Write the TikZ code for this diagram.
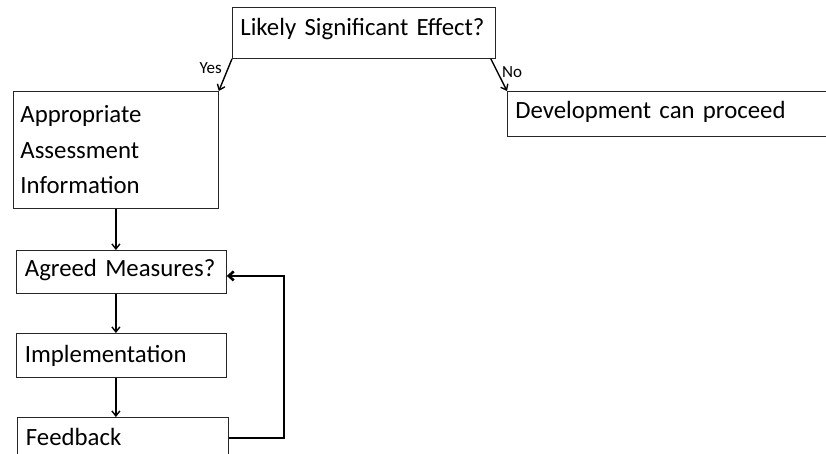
\documentclass[tikz,border=0pt]{standalone}
\usepackage{fontspec}
\setmainfont{Carlito}
\usetikzlibrary{arrows.meta,calc}
\begin{document}
\begin{tikzpicture}[x=1pt,y=-1pt,
  box/.style={draw=black!85,line width=0.8pt,rectangle,anchor=north west,
    inner xsep=7pt,inner ysep=0pt,align=left,font=\fontsize{24.8}{35.5}\selectfont},
  lab/.style={font=\fontsize{17}{19}\selectfont,inner sep=0pt},
  arr/.style={line width=1.4pt,-{Straight Barb[length=5pt,width=8pt]}},
  loop/.style={line width=2.6pt,-{Straight Barb[length=5pt,width=9pt]}}]
\path[use as bounding box] (0,0) rectangle (826,454);
\clip (0,0) rectangle (826,454);
\fill[white] (0,0) rectangle (826,454);
% boxes
\node[box,text width=247pt,inner xsep=8pt,text height=28pt,text depth=23pt] (q) at (232,7) {Likely Significant Effect?};
\node[box,text width=191pt,minimum height=117pt] (a) at (13,91) {Appropriate\\Assessment\\Information};
\node[box,text width=330pt,inner xsep=8pt,text height=27pt,text depth=18pt] (d) at (507,91) {Development can proceed};
\node[box,text width=193pt,inner xsep=8.5pt,text height=26pt,text depth=17pt] (ag) at (16,250) {Agreed Measures?};
\node[box,text width=193pt,inner xsep=8.5pt,text height=29pt,text depth=15pt] (im) at (16,333) {Implementation};
\node[box,text width=194pt,inner xsep=8.5pt,text height=28pt,text depth=22pt] (fb) at (17,417) {Feedback};
% labels
\node[lab,anchor=base east] (yes) at (222,74) {Yes};
\node[lab,anchor=base west] (no) at (502,78) {No};
% connectors
\draw[arr] (q.south west) -- (a.north east);
\draw[arr] ($(q.south east)+(-5,0)$) -- (d.north west);
\draw[arr] (a.south) -- (a.south |- ag.north);
\draw[arr] (a.south |- ag.south) -- (a.south |- im.north);
\draw[arr] (a.south |- im.south) -- (a.south |- fb.north);
\draw[loop] ($(fb.north east)+(0,21)$) -- ++(55,0) |- ($(ag.east)+(0,4)$);
\end{tikzpicture}
\end{document}
